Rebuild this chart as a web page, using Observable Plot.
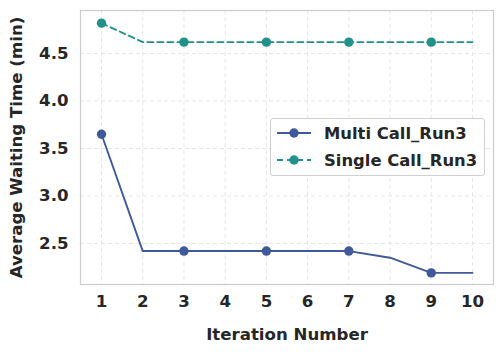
<!DOCTYPE html>
<html><head><meta charset="utf-8">
<script src="https://cdn.jsdelivr.net/npm/d3@7"></script>
<script src="https://cdn.jsdelivr.net/npm/@observablehq/plot@0.6"></script>
<style>
body{margin:0;background:#fff;font-family:"DejaVu Sans",sans-serif;}
#wrap{position:relative;width:503px;height:353px;}
#wrap svg text{font-family:"DejaVu Sans",sans-serif;font-size:16.6px;font-weight:bold;}
#legend{position:absolute;left:270px;top:118px;width:215px;height:58px;box-sizing:border-box;border:1px solid #d0d0d0;border-radius:3px;background:rgba(255,255,255,0.85);font:bold 16.4px "DejaVu Sans",sans-serif;color:#262626;}
.row{position:absolute;left:0;height:22px;display:flex;align-items:center;white-space:nowrap;}
.row svg{margin-left:5px;margin-right:12px;}
</style></head>
<body><div id="wrap"></div>
<script>
const iterations = [1,2,3,4,5,6,7,8,9,10];
const multiCall = [3.65,2.42,2.42,2.42,2.42,2.42,2.42,2.35,2.19,2.19];
const singleCall = [4.82,4.62,4.62,4.62,4.62,4.62,4.62,4.62,4.62,4.62];
const markerIters = [1,3,5,7,9];
const xTicks = [1,2,3,4,5,6,7,8,9,10];
const yTicks = [2.5,3.0,3.5,4.0,4.5];
const seriesNames = ["Multi Call_Run3","Single Call_Run3"];
const colors = ["#40599a","#21918c"];

const multi = iterations.map((x,i)=>({x,y:multiCall[i]}));
const single = iterations.map((x,i)=>({x,y:singleCall[i]}));
const multiM = multi.filter(d=>markerIters.includes(d.x));
const singleM = single.filter(d=>markerIters.includes(d.x));

const chart = Plot.plot({
  width:503, height:353,
  marginLeft:80, marginRight:10, marginTop:10, marginBottom:69,
  style:{fontFamily:"DejaVu Sans", fontSize:"16px", fontWeight:"bold", color:"#262626", background:"#fff"},
  x:{domain:[0.49,10.51], ticks:xTicks, tickFormat:d3.format("d"), tickSize:0, tickPadding:11, label:"Iteration Number", labelAnchor:"center", labelArrow:"none", labelOffset:55},
  y:{domain:[2.068,4.953], ticks:yTicks, tickFormat:d3.format(".1f"), tickSize:0, tickPadding:12, label:"Average Waiting Time (min)", labelAnchor:"center", labelArrow:"none", labelOffset:70},
  marks:[
    Plot.gridX(xTicks,{stroke:"#e0e0e0", strokeOpacity:1, strokeDasharray:"4,3", strokeWidth:0.8}),
    Plot.gridY(yTicks,{stroke:"#e0e0e0", strokeOpacity:1, strokeDasharray:"4,3", strokeWidth:0.8}),
    Plot.frame({stroke:"#cccccc", strokeWidth:1.2}),
    Plot.line(multi,{x:"x",y:"y",stroke:colors[0],strokeWidth:1.9}),
    Plot.line(single,{x:"x",y:"y",stroke:colors[1],strokeWidth:1.9,strokeDasharray:"6,4"}),
    Plot.dot(multiM,{x:"x",y:"y",fill:colors[0],r:4.7}),
    Plot.dot(singleM,{x:"x",y:"y",fill:colors[1],r:4.7})
  ]
});
const wrap = document.getElementById("wrap");
wrap.appendChild(chart);

const leg = document.createElement("div");
leg.id="legend";
seriesNames.forEach((name,i)=>{
  const row=document.createElement("div");
  row.className="row";
  row.style.top=(i===0?3:30)+"px";
  const dash = i===1 ? 'stroke-dasharray="6,4"' : '';
  row.innerHTML=`<svg width="36" height="12"><line x1="1" y1="6" x2="35" y2="6" stroke="${colors[i]}" stroke-width="1.9" ${dash}/><circle cx="18" cy="6" r="4.7" fill="${colors[i]}"/></svg><span>${name}</span>`;
  leg.appendChild(row);
});
wrap.appendChild(leg);
</script></body></html>
